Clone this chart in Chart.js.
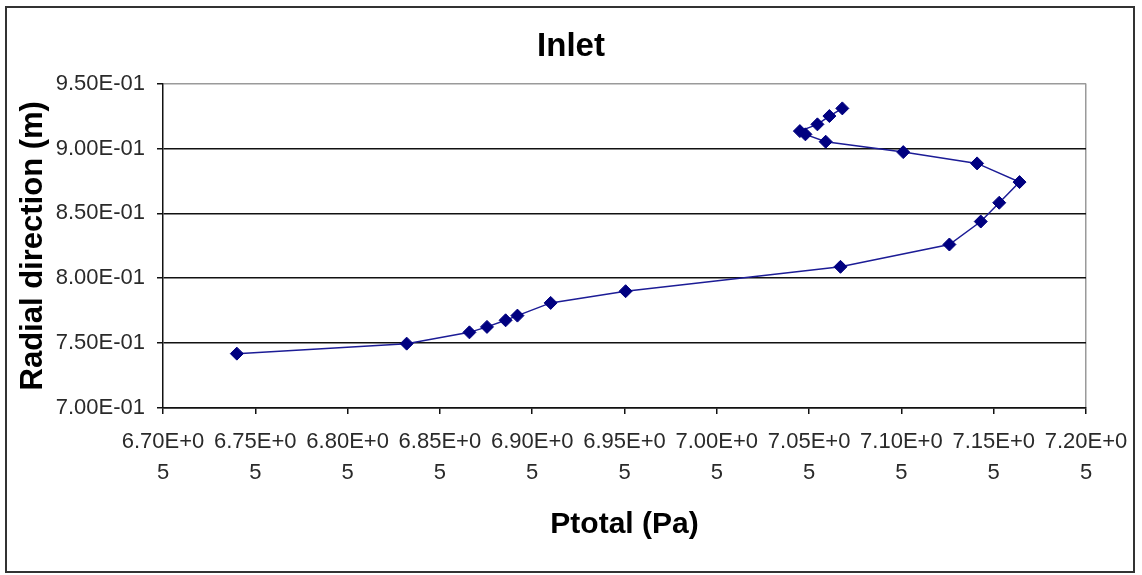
<!DOCTYPE html>
<html>
<head>
<meta charset="utf-8">
<script src="https://cdn.jsdelivr.net/npm/chart.js@4.4.0/dist/chart.umd.min.js"></script>
<style>
  html, body { margin: 0; padding: 0; background: #fff; }
  #wrap { width: 1142px; height: 575px; }
</style>
</head>
<body>
<div id="wrap"><canvas id="inletChart"></canvas></div>
<script>
// Ptotal (Pa) along the line, bottom to top
var ptotal = [674000, 683200, 686600, 687550, 688560, 689200, 691000, 695060, 706700,
  712600, 714300, 715300, 716400, 714100, 710100, 705900, 704800, 704500, 705450, 706100, 706800];
// radial position (m)
var radial = [0.7419, 0.7496, 0.7583, 0.7625, 0.7676, 0.7712, 0.7810, 0.7900, 0.8088,
  0.8260, 0.8437, 0.8582, 0.8741, 0.8885, 0.8972, 0.9052, 0.9109, 0.9134, 0.9186, 0.9250, 0.9309];
var xRange = [670000, 720000, 5000];
var yRange = [0.70, 0.95, 0.05];

var fontFam = "'Liberation Sans', Arial, sans-serif";

//excel style 9.50E-01
function sciLabel(v) {
  var parts = Number(v).toExponential(2).toUpperCase().split("E");
  var exp = parseInt(parts[1], 10);
  var sign = exp < 0 ? "-" : "+";
  exp = Math.abs(exp);
  return parts[0] + "E" + sign + (exp < 10 ? "0" + exp : exp);
}

var points = [];
for (var i = 0; i < ptotal.length; i++) {
  points.push({ x: ptotal[i], y: radial[i] });
}

//outer frame + white background
var framePlugin = {
  id: "frame",
  beforeDraw: function(chart) {
    var ctx = chart.ctx;
    ctx.save();
    ctx.fillStyle = "#fff";
    ctx.fillRect(0, 0, chart.width, chart.height);
    ctx.strokeStyle = "#333";
    ctx.lineWidth = 2;
    ctx.strokeRect(6, 7, 1128, 565);
    ctx.restore();
  }
};

var ctx1 = document.getElementById("inletChart");
var chart1 = new Chart(ctx1, {
  type: "scatter",
  data: {
    datasets: [
      {
        label: "Inlet",
        data: points,
        showLine: true,
        borderColor: "#1c1c96",
        borderWidth: 1.5,
        backgroundColor: "#000080",
        pointStyle: "rectRot",
        pointRadius: 6.5,
        pointHoverRadius: 6.5,
        pointBorderColor: "#000080",
        pointBackgroundColor: "#000080",
        pointBorderWidth: 1
      }
    ]
  },
  options: {
    responsive: true,
    maintainAspectRatio: false,
    animation: false,
    layout: { padding: 0 },
    plugins: {
      legend: { display: false },
      tooltip: { enabled: false },
      title: {
        display: true,
        text: "Inlet",
        color: "#000",
        font: { family: fontFam, size: 33, weight: "bold", lineHeight: 1.2 },
        padding: { top: 27, bottom: 17 }
      }
    },
    scales: {
      x: {
        type: "linear",
        min: xRange[0],
        max: xRange[1],
        ticks: {
          stepSize: xRange[2],
          autoSkip: false,
          maxRotation: 0,
          padding: 12,
          color: "#2a2a2a",
          font: { family: fontFam, size: 22, lineHeight: 1.42 },
          callback: function(v) {
            var s = sciLabel(v);
            return [s.slice(0, -1), s.slice(-1)];
          }
        },
        grid: {
          drawOnChartArea: true,
          color: function(c) {
            return c.tick && c.tick.value === xRange[1] ? "#9a9a9a" : "rgba(0,0,0,0)";
          },
          lineWidth: 1.5,
          tickColor: "#111",
          tickLength: 6
        },
        border: { color: "#111", width: 1.5 },
        title: {
          display: true,
          text: "Ptotal (Pa)",
          color: "#000",
          font: { family: fontFam, size: 30, weight: "bold", lineHeight: 1.2 },
          padding: { top: 0, bottom: 32 }
        },
        afterFit: function(scale) {
          scale.height = 167;
        }
      },
      y: {
        type: "linear",
        min: yRange[0],
        max: yRange[1],
        ticks: {
          stepSize: yRange[2],
          padding: 12,
          color: "#2a2a2a",
          font: { family: fontFam, size: 22 },
          callback: function(v) {
            return sciLabel(v);
          }
        },
        grid: {
          color: function(c) {
            return c.tick && Math.abs(c.tick.value - yRange[1]) < 1e-6 ? "#9a9a9a" : "#111";
          },
          lineWidth: 1.5,
          tickColor: "#111",
          tickLength: 6
        },
        border: { color: "#111", width: 1.5 },
        title: {
          display: true,
          text: "Radial direction (m)",
          color: "#000",
          font: { family: fontFam, size: 31, weight: "bold", lineHeight: 1.2 },
          padding: { top: 15, bottom: 0 }
        },
        afterFit: function(scale) {
          scale.width = 163;
        }
      },
      yRight: {
        type: "linear",
        position: "right",
        display: true,
        ticks: { display: false },
        grid: { display: false },
        border: { display: false },
        afterFit: function(scale) {
          scale.width = 56;
        }
      }
    }
  },
  plugins: [framePlugin]
});
</script>
</body>
</html>
